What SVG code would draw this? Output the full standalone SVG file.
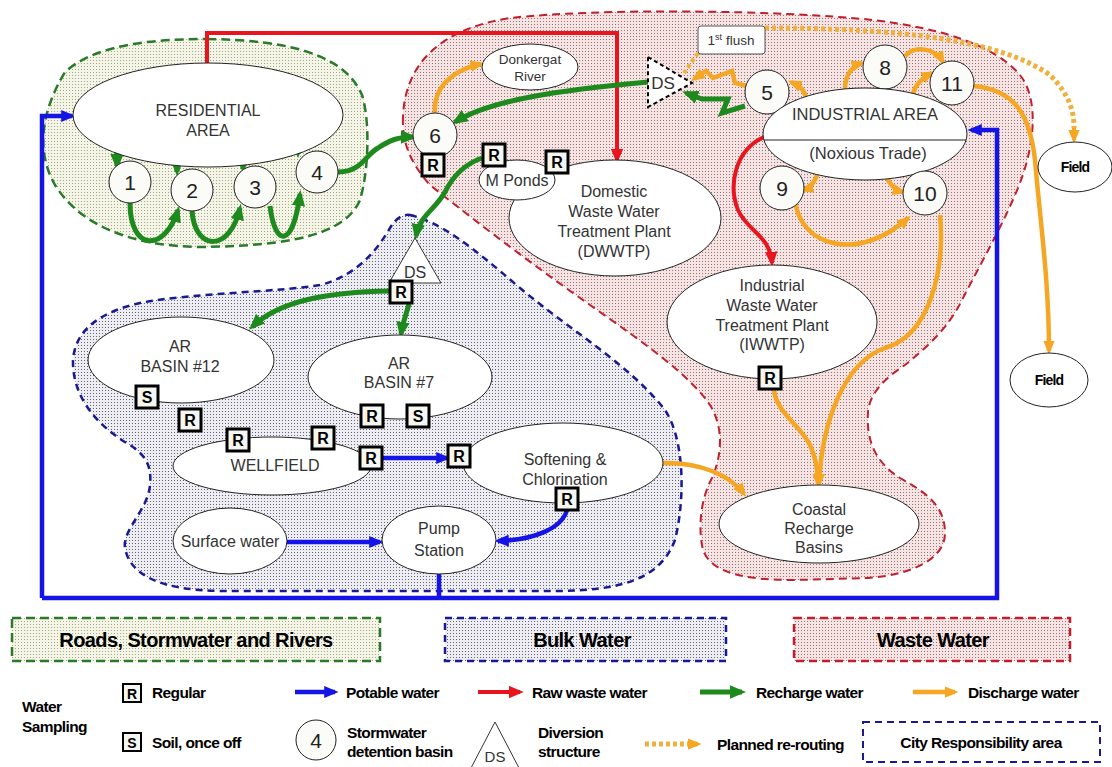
<svg xmlns="http://www.w3.org/2000/svg" width="1112" height="767" viewBox="0 0 1112 767">
<defs>
<pattern id="pg" width="3" height="3" patternUnits="userSpaceOnUse"><rect width="3" height="3" fill="#f4f5e6"/><rect width="1" height="1" fill="#a0a888"/></pattern>
<pattern id="pb" width="3" height="3" patternUnits="userSpaceOnUse"><rect width="3" height="3" fill="#eeeef2"/><rect width="1" height="1" fill="#62627a"/></pattern>
<pattern id="pr" width="3" height="3" patternUnits="userSpaceOnUse"><rect width="3" height="3" fill="#f4e4e4"/><rect width="1" height="1" fill="#a07070"/></pattern>
<marker id="mb" viewBox="0 0 12 10" refX="9" refY="5" markerWidth="15" markerHeight="12" markerUnits="userSpaceOnUse" orient="auto"><path d="M0,0 L12,5 L0,10 z" fill="#1414e6"/></marker>
<marker id="mr" viewBox="0 0 12 10" refX="9" refY="5" markerWidth="15" markerHeight="13" markerUnits="userSpaceOnUse" orient="auto"><path d="M0,0 L12,5 L0,10 z" fill="#e8141e"/></marker>
<marker id="mg" viewBox="0 0 12 10" refX="9" refY="5" markerWidth="16" markerHeight="14" markerUnits="userSpaceOnUse" orient="auto"><path d="M0,0 L12,5 L0,10 z" fill="#1e8a1e"/></marker>
<marker id="mo" viewBox="0 0 12 10" refX="9" refY="5" markerWidth="14" markerHeight="12" markerUnits="userSpaceOnUse" orient="auto"><path d="M0,0 L12,5 L0,10 z" fill="#f5a623"/></marker>
</defs>
<style>
.t{font-family:'Liberation Sans',Arial,sans-serif;fill:#333;text-anchor:middle;font-size:16px}
.sm{font-size:13.5px}
.num{font-size:21px;fill:#222}
.bx{fill:#fff;stroke:#222;stroke-width:1}
.cir{fill:#fbfbf8;stroke:#222;stroke-width:1}
.rq{fill:#f6f6f0;stroke:#000;stroke-width:3}
.rt{font-family:'Liberation Sans',Arial,sans-serif;font-weight:bold;font-size:16px;fill:#000;text-anchor:middle}
.fld{font-family:'Liberation Sans',Arial,sans-serif;font-weight:bold;font-size:14px;fill:#000;text-anchor:middle;letter-spacing:-0.8px}
.lg{font-family:'Liberation Sans',Arial,sans-serif;font-weight:bold;font-size:15.5px;fill:#000;letter-spacing:-0.6px}
.lgb{font-family:'Liberation Sans',Arial,sans-serif;font-weight:bold;font-size:20px;fill:#000;text-anchor:middle;letter-spacing:-0.6px}
.cb{fill:none;stroke:#1414e6;stroke-width:4.5}
.cr{fill:none;stroke:#e8141e;stroke-width:4}
.cg{fill:none;stroke:#1e8a1e;stroke-width:5}
.co{fill:none;stroke:#f5a623;stroke-width:4.5}
</style>

<g id="regions">
<path id="region-roads" d="M 207,39 C 290,40 345,55 362,95 C 370,120 369,170 360,200 C 345,235 290,246 200,247 C 130,246 80,225 55,185 C 35,150 42,110 65,72 C 95,45 150,39 207,39 Z" fill="url(#pg)" stroke="#2a7a2a" stroke-width="2.5" stroke-dasharray="9 5"/>
<path id="region-waste" d="M 403,117 C 402,140 408,160 430,185 C 480,225 540,270 590,305 C 640,340 690,375 710,405 C 724,428 722,455 712,478 C 700,500 698,530 703,550 C 712,575 750,580 795,580 L 868,578 C 910,575 945,560 945,533 C 945,505 925,492 900,478 C 875,462 866,440 868,412 C 870,390 890,375 905,365 C 930,345 950,325 962,300 C 980,265 1000,230 1015,195 C 1035,150 1040,100 1020,75 C 995,45 940,28 873,20 C 780,10 600,8 510,18 C 445,28 405,60 403,117 Z" fill="url(#pr)" stroke="#c0202e" stroke-width="2" stroke-dasharray="8 5"/>
<path id="region-bulk" d="M 410,215 C 440,222 470,245 520,288 C 570,330 630,365 665,410 C 685,440 685,500 675,540 C 660,580 620,590 560,591 L 220,591 C 160,590 130,575 125,548 C 122,530 148,510 150,485 C 152,465 145,455 130,445 C 95,425 72,395 73,360 C 75,330 100,312 140,303 C 190,293 280,292 320,285 C 360,275 380,245 390,228 C 396,218 403,214 410,215 Z" fill="url(#pb)" stroke="#1a1a90" stroke-width="2.5" stroke-dasharray="7 5"/>
</g>

<g id="connectors">
<path class="cb" d="M 42,598 V 116 H 72" marker-end="url(#mb)"/>
<path class="cb" d="M 42,598 H 997 V 130 H 971" marker-end="url(#mb)"/>
<path class="cb" d="M 439,574 V 598"/>
<path class="cb" d="M 287,542 H 380" marker-end="url(#mb)"/>
<path class="cb" d="M 383,458 H 447" marker-end="url(#mb)"/>
<path class="cb" d="M 567,510 C 562,528 535,540 498,541" marker-end="url(#mb)"/>
<path class="cr" d="M 207,63 V 33 H 617 V 160" marker-end="url(#mr)"/>
<path class="cr" d="M 764,137 C 735,150 728,185 738,210 C 748,232 770,235 772,263" marker-end="url(#mr)"/>
<path class="cg" d="M 117,137 V 166" marker-end="url(#mg)"/>
<path class="cg" d="M 177,148 V 172" marker-end="url(#mg)"/>
<path class="cg" d="M 243,146 V 169" marker-end="url(#mg)"/>
<path class="cg" d="M 298,136 V 154" marker-end="url(#mg)"/>
<path class="cg" d="M 130,203 C 130,252 165,252 178,210" marker-end="url(#mg)"/>
<path class="cg" d="M 192,211 C 195,252 230,252 240,208" marker-end="url(#mg)"/>
<path class="cg" d="M 270,206 C 275,248 293,248 300,194" marker-end="url(#mg)"/>
<path class="cg" d="M 338,172 C 362,172 365,155 378,148 C 390,140 398,137 413,137" marker-end="url(#mg)"/>
<path class="cg" d="M 648,82 C 560,90 490,100 455,122" marker-end="url(#mg)"/>
<path class="cg" d="M 745,106 L 722,113 L 728,99 L 702,99 L 686,93" marker-end="url(#mg)"/>
<path class="cg" d="M 482,158 C 462,165 452,178 445,192 C 435,210 420,215 416,236" marker-end="url(#mg)"/>
<path class="cg" d="M 390,291 C 330,292 280,300 252,327" marker-end="url(#mg)"/>
<path class="cg" d="M 409,304 C 406,315 403,322 401,334" marker-end="url(#mg)"/>
<path class="co" d="M 435,113 C 433,88 452,70 481,64" marker-end="url(#mo)"/>
<path class="co" d="M 747,86 L 735,83 L 732,71 L 713,78 L 706,71 L 694,79" marker-end="url(#mo)"/>
<path d="M 698,53 L 684,73" fill="none" stroke="#f0b040" stroke-width="4" stroke-dasharray="4 3"/>
<path class="co" d="M 806,99 C 805,90 800,86 791,82" marker-end="url(#mo)"/>
<path class="co" d="M 845,89 C 845,75 852,66 862,63" marker-end="url(#mo)"/>
<path class="co" d="M 905,56 C 915,45 935,48 943,62" marker-end="url(#mo)"/>
<path class="co" d="M 913,94 C 915,85 922,78 932,73" marker-end="url(#mo)"/>
<path class="co" d="M 818,172 C 815,183 810,188 803,190" marker-end="url(#mo)"/>
<path class="co" d="M 885,172 C 888,183 895,190 903,192" marker-end="url(#mo)"/>
<path class="co" d="M 795,200 C 800,248 860,262 908,218" marker-end="url(#mo)"/>
<path class="co" d="M 940,215 C 945,270 930,335 885,348 C 845,362 822,420 819,484" marker-end="url(#mo)"/>
<path class="co" d="M 774,390 C 776,412 800,425 810,445 C 816,458 818,470 818,484" marker-end="url(#mo)"/>
<path class="co" d="M 662,463 C 700,462 730,475 744,494" marker-end="url(#mo)"/>
<path class="co" d="M 974,86 C 1015,90 1030,115 1035,160 C 1040,220 1049,280 1049,351" marker-end="url(#mo)"/>
<path d="M 765,28 C 900,28 1000,40 1050,75 C 1070,95 1074,112 1074,128" fill="none" stroke="#f0b040" stroke-width="5" stroke-dasharray="4 3"/>
<path d="M 1074,128 L 1074,140" fill="none" stroke="#f5a623" stroke-width="4" marker-end="url(#mo)"/>
</g>

<g id="node-residential"><ellipse class="bx" cx="208" cy="115" rx="135" ry="52"/><text class="t" x="208" y="116">RESIDENTIAL</text><text class="t" x="208" y="136">AREA</text></g>
<g id="node-c1"><circle class="cir" cx="130" cy="182" r="21"/><text class="t num" x="130" y="189.5">1</text></g>
<g id="node-c2"><circle class="cir" cx="192" cy="190" r="21"/><text class="t num" x="192" y="197.5">2</text></g>
<g id="node-c3"><circle class="cir" cx="255" cy="187" r="21"/><text class="t num" x="255" y="194.5">3</text></g>
<g id="node-c4"><circle class="cir" cx="317" cy="172" r="21"/><text class="t num" x="317" y="179.5">4</text></g>
<g id="node-c6"><circle class="cir" cx="435" cy="135" r="22"/><text class="t num" x="435" y="142.5">6</text></g>
<g id="node-donkergat"><ellipse class="bx" cx="530" cy="67" rx="48" ry="23"/><text class="t sm" x="530" y="64">Donkergat</text><text class="t sm" x="530" y="81">River</text></g>
<g id="node-dwwtp"><ellipse class="bx" cx="615" cy="218" rx="106" ry="58"/><text class="t" x="614" y="197">Domestic</text><text class="t" x="614" y="217">Waste Water</text><text class="t" x="614" y="237">Treatment Plant</text><text class="t" x="614" y="257">(DWWTP)</text></g>
<g id="node-mponds"><ellipse class="bx" cx="517" cy="180" rx="38" ry="20"/><text class="t" x="517" y="186">M Ponds</text></g>
<g id="node-ds-top"><path d="M 648,57 L 692,83 L 648,107 Z" fill="#fff" stroke="#000" stroke-width="2" stroke-dasharray="4 3"/><text class="t" x="663" y="89" style="font-size:17px">DS</text></g>
<g id="node-flush"><rect x="698" y="26" width="67" height="28" rx="3" fill="#fff" stroke="#555" stroke-width="1"/><text class="t sm" x="731" y="45">1<tspan dy="-5" style="font-size:9px">st</tspan><tspan dy="5"> flush</tspan></text></g>
<g id="node-c5"><circle class="cir" cx="767" cy="92" r="22"/><text class="t num" x="767" y="99.5">5</text></g>
<g id="node-c8"><circle class="cir" cx="885" cy="67" r="22"/><text class="t num" x="885" y="74.5">8</text></g>
<g id="node-c11"><circle class="cir" cx="952" cy="83" r="22"/><text class="t num" x="952" y="90.5">11</text></g>
<g id="node-industrial"><ellipse class="bx" cx="865" cy="134" rx="102" ry="46"/><line x1="764" y1="140" x2="966" y2="140" stroke="#222" stroke-width="1"/><text class="t" x="865" y="120" style="font-size:16.5px">INDUSTRIAL AREA</text><text class="t" x="868" y="159" style="font-size:16.5px">(Noxious Trade)</text></g>
<g id="node-c9"><circle class="cir" cx="782" cy="188" r="22"/><text class="t num" x="782" y="195.5">9</text></g>
<g id="node-c10"><circle class="cir" cx="925" cy="193" r="22"/><text class="t num" x="925" y="200.5">10</text></g>
<g id="node-field1"><ellipse class="bx" cx="1075" cy="167" rx="37" ry="25"/><text class="fld" x="1075" y="172">Field</text></g>
<g id="node-field2"><ellipse class="bx" cx="1049" cy="380" rx="39" ry="27"/><text class="fld" x="1049" y="385">Field</text></g>
<g id="node-iwwtp"><ellipse class="bx" cx="772" cy="322" rx="105" ry="57"/><text class="t" x="772" y="291">Industrial</text><text class="t" x="772" y="311">Waste Water</text><text class="t" x="772" y="331">Treatment Plant</text><text class="t" x="772" y="350">(IWWTP)</text></g>
<g id="node-coastal"><ellipse class="bx" cx="819" cy="524" rx="100" ry="39"/><text class="t" x="819" y="515">Coastal</text><text class="t" x="819" y="534">Recharge</text><text class="t" x="819" y="553">Basins</text></g>
<g id="node-ds-low"><path d="M 415,238 L 441,283 L 389,283 Z" fill="#fff" stroke="#333" stroke-width="1"/><text class="t" x="415" y="278">DS</text></g>
<g id="node-ar12"><ellipse class="bx" cx="181" cy="360" rx="93" ry="43"/><text class="t" x="180" y="352">AR</text><text class="t" x="180" y="372">BASIN #12</text></g>
<g id="node-ar7"><ellipse class="bx" cx="400" cy="377" rx="92" ry="42"/><text class="t" x="399" y="369">AR</text><text class="t" x="399" y="388">BASIN #7</text></g>
<g id="node-wellfield"><ellipse class="bx" cx="272" cy="466" rx="99" ry="29"/><text class="t" x="275" y="471">WELLFIELD</text></g>
<g id="node-softening"><ellipse class="bx" cx="563" cy="463" rx="100" ry="40"/><text class="t" x="565" y="465">Softening &amp;</text><text class="t" x="565" y="485">Chlorination</text></g>
<g id="node-surface"><ellipse class="bx" cx="230" cy="541" rx="57" ry="33"/><text class="t" x="230" y="547">Surface water</text></g>
<g id="node-pump"><ellipse class="bx" cx="439" cy="540" rx="57" ry="34"/><text class="t" x="439" y="534">Pump</text><text class="t" x="439" y="556">Station</text></g>

<g id="samples">
<rect class="rq" x="422" y="154" width="22" height="22"/><text class="rt" x="433" y="171">R</text>
<rect class="rq" x="483" y="144" width="22" height="22"/><text class="rt" x="494" y="161">R</text>
<rect class="rq" x="546" y="151" width="22" height="22"/><text class="rt" x="557" y="168">R</text>
<rect class="rq" x="390" y="281" width="22" height="22"/><text class="rt" x="401" y="298">R</text>
<rect class="rq" x="136" y="386" width="22" height="22"/><text class="rt" x="147" y="403">S</text>
<rect class="rq" x="179" y="409" width="22" height="22"/><text class="rt" x="190" y="426">R</text>
<rect class="rq" x="227" y="429" width="22" height="22"/><text class="rt" x="238" y="446">R</text>
<rect class="rq" x="312" y="427" width="22" height="22"/><text class="rt" x="323" y="444">R</text>
<rect class="rq" x="361" y="405" width="22" height="22"/><text class="rt" x="372" y="422">R</text>
<rect class="rq" x="407" y="405" width="22" height="22"/><text class="rt" x="418" y="422">S</text>
<rect class="rq" x="360" y="447" width="22" height="22"/><text class="rt" x="371" y="464">R</text>
<rect class="rq" x="448" y="445" width="22" height="22"/><text class="rt" x="459" y="462">R</text>
<rect class="rq" x="556" y="488" width="22" height="22"/><text class="rt" x="567" y="505">R</text>
<rect class="rq" x="759" y="367" width="22" height="22"/><text class="rt" x="770" y="384">R</text>
</g>

<g id="legend">
<rect x="12" y="618" width="368" height="43" fill="url(#pg)" stroke="#2a7a2a" stroke-width="2.5" stroke-dasharray="9 5"/>
<text class="lgb" x="196" y="647">Roads, Stormwater and Rivers</text>
<rect x="445" y="618" width="281" height="43" fill="url(#pb)" stroke="#1a1a90" stroke-width="2.5" stroke-dasharray="7 5"/>
<text class="lgb" x="582" y="647">Bulk Water</text>
<rect x="794" y="618" width="276" height="43" fill="url(#pr)" stroke="#c0202e" stroke-width="2.5" stroke-dasharray="8 5"/>
<text class="lgb" x="933" y="647">Waste Water</text>

<text class="lg" x="22" y="712">Water</text>
<text class="lg" x="22" y="732">Sampling</text>
<rect x="123" y="684" width="18" height="18" fill="#f6f6f0" stroke="#000" stroke-width="2"/><text class="rt" x="132" y="699" style="font-size:14px">R</text>
<text class="lg" x="152" y="698">Regular</text>
<rect x="123" y="733" width="18" height="18" fill="#f6f6f0" stroke="#000" stroke-width="2"/><text class="rt" x="132" y="748" style="font-size:14px">S</text>
<text class="lg" x="152" y="748">Soil, once off</text>

<path class="cb" d="M 295,692 H 335" marker-end="url(#mb)"/>
<text class="lg" x="346" y="698">Potable water</text>
<path class="cr" d="M 478,692 H 520" marker-end="url(#mr)"/>
<text class="lg" x="532" y="698">Raw waste water</text>
<path class="cg" d="M 700,692 H 742" marker-end="url(#mg)"/>
<text class="lg" x="756" y="698">Recharge water</text>
<path class="co" d="M 913,692 H 955" marker-end="url(#mo)"/>
<text class="lg" x="968" y="698">Discharge water</text>

<circle class="cir" cx="316" cy="740" r="20"/><text class="t num" x="316" y="747.5">4</text>
<text class="lg" x="347" y="738">Stormwater</text>
<text class="lg" x="347" y="757">detention basin</text>
<path d="M 495,722 L 519,768 L 471,768 Z" fill="#fff" stroke="#333" stroke-width="1"/><text class="t" x="495" y="762" style="font-size:15px">DS</text>
<text class="lg" x="538" y="738">Diversion</text>
<text class="lg" x="538" y="757">structure</text>
<path d="M 645,744 H 690" fill="none" stroke="#f0b040" stroke-width="5" stroke-dasharray="4 3"/>
<path d="M 690,744 H 698" fill="none" stroke="#f5a623" stroke-width="4.5" marker-end="url(#mo)"/>
<text class="lg" x="717" y="750">Planned re-routing</text>
<rect x="863" y="722" width="237" height="40" fill="#fff" stroke="#1a1a90" stroke-width="2" stroke-dasharray="7 5"/>
<text class="lg" x="981" y="748" text-anchor="middle">City Responsibility area</text>
</g>
</svg>
